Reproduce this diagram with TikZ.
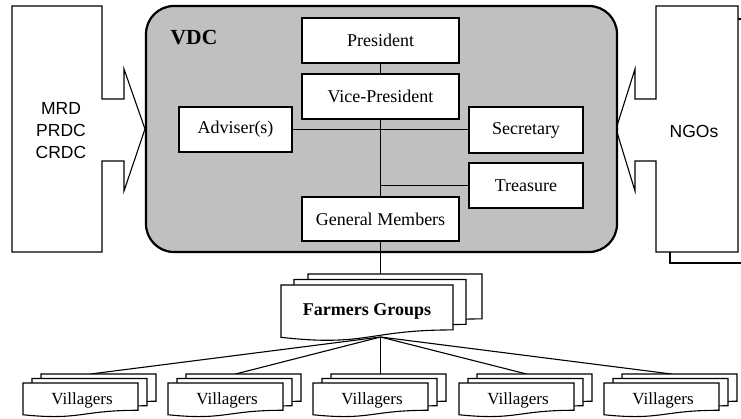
\documentclass[tikz,border=0pt]{standalone}
\usepackage{fontspec}
\setmainfont{Liberation Serif}
\newfontfamily\sansfam{Liberation Sans}
\definecolor{vdcgray}{RGB}{192,192,192}

\tikzset{
  box/.style={draw, line width=1.1pt, fill=white, inner sep=0pt,
    minimum height=45pt, font=\fontsize{18}{21}\selectfont},
  link/.style={line width=1.1pt},
  page/.style={draw, line width=1.1pt, fill=white, line join=miter},
  outline/.style={draw, line width=1.1pt, fill=white, line join=miter},
}

% one sheet of a document stack: left, top, width, height
\newcommand{\docpage}[4]{%
  \begin{scope}[shift={(#1,#2)}, xscale=#3, yscale=#4]
    \path[page] (0,0) -- (1,0) -- (1,0.802)
      .. controls (0.5,0.802) and (0.5,1.107) .. (0,0.934) -- cycle;
  \end{scope}}

% three stacked sheets, front sheet at the given left edge
\newcommand{\vilstack}[1]{%
  \docpage{#1+18}{374}{115}{34}%
  \docpage{#1+9}{378.5}{115}{34}%
  \docpage{#1}{383}{115}{34}}

\begin{document}
\begin{tikzpicture}[x=1pt, y=-1pt]
\useasboundingbox (0,0) rectangle (741,419);
\clip (0,0) rectangle (741,419);

% ministries on the left, pointing into the committee
\path[outline] (12,6) -- (102,6) -- (102,99) -- (124,99) -- (124,69)
  -- (145,129) -- (124,191) -- (124,161) -- (102,161) -- (102,252)
  -- (12,252) -- cycle;
\node[font=\sansfam\fontsize{17.5}{22}\selectfont, align=center] (mrd)
  at (61,131) {MRD\\PRDC\\CRDC};

% NGOs on the right, with a sheet behind
\path[outline] (670,19) rectangle (752,263);
\path[outline] (656,6) -- (738,6) -- (738,252) -- (656,252) -- (656,161)
  -- (635,161) -- (635,191) -- (616,129) -- (635,69) -- (635,99)
  -- (656,99) -- cycle;
\node[font=\sansfam\fontsize{17.5}{22}\selectfont] (ngo) at (694,131) {NGOs};

% the committee
\node[draw, fill=vdcgray, line width=2.2pt, rounded corners=28pt,
  minimum width=471pt, minimum height=246pt] (vdc) at (381.5,129) {};
\node[font=\bfseries\fontsize{21.5}{25}\selectfont] (vdclabel) at (194,38) {VDC};

\node[box, minimum width=157pt] (pres) at (380.5,40.5) {President};
\node[box, minimum width=157pt] (vp) at (380.5,96.5) {Vice-President};
\node[box, minimum width=113pt] (adv) at (235.5,129.5) {Adviser(s)};
\node[box, minimum width=114pt, minimum height=46pt] (sec) at (526,130) {Secretary};
\node[box, minimum width=114pt] (tre) at (526,185.5) {Treasure};
\node[box, minimum width=157pt, minimum height=44pt] (gm) at (380.5,219) {General Members};

\draw[link] (pres.south) -- (vp.north);
\draw[link] (vp.south) -- (gm.north);
\draw[link] (adv.east) -- (adv.east -| sec.west);
\draw[link] (vp.south |- tre.west) -- (tre.west);

% farmers groups and the villagers below them
\coordinate (fgtop) at (380.5,274);
\coordinate (fgb) at (380.5,337);
\draw[link] (gm.south) -- (fgtop);

\foreach \i/\xl in {1/23,2/168,3/313,4/459,5/604}{
  \coordinate (vtop\i) at (\xl+67.5,374);
  \draw[link] (fgb) -- (vtop\i);
}

\docpage{308}{274}{174}{56}
\docpage{294}{279.5}{172}{56}
\docpage{281}{285}{172}{56}
\node[font=\bfseries\fontsize{18}{21}\selectfont] (fg) at (367,311) {Farmers Groups};

\foreach \i/\xl in {1/23,2/168,3/313,4/459,5/604}{
  \vilstack{\xl}
  \node[font=\fontsize{17}{20}\selectfont] (vil\i) at (\xl+59,400) {Villagers};
}
\end{tikzpicture}
\end{document}
